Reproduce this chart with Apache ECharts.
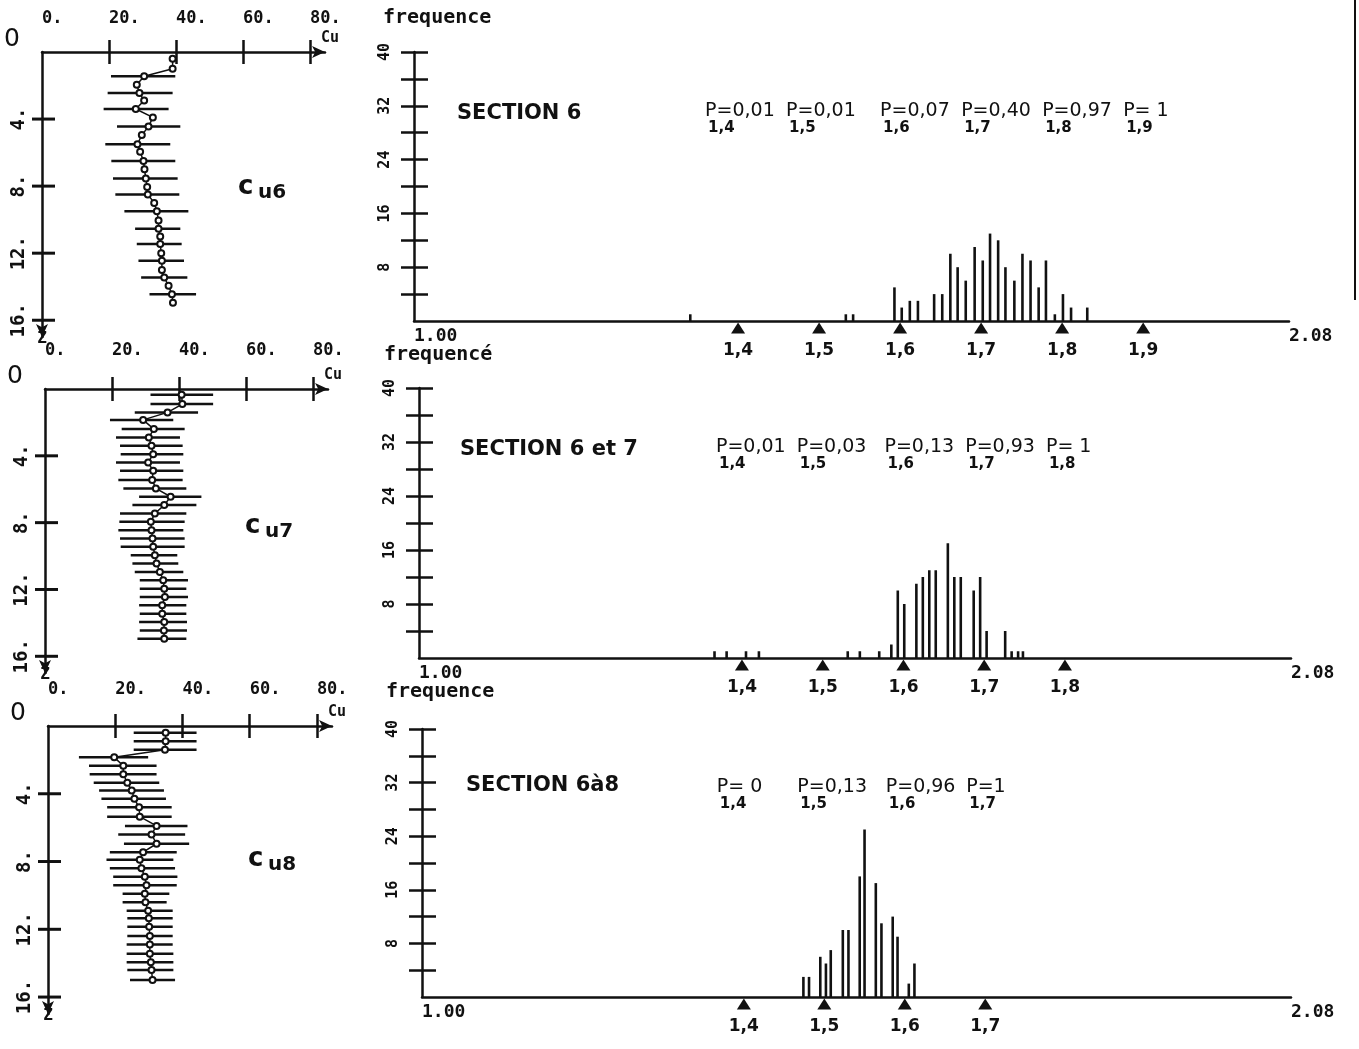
<!DOCTYPE html>
<html>
<head>
<meta charset="utf-8">
<script src="https://cdn.jsdelivr.net/npm/echarts@6/dist/echarts.min.js"></script>
<style>
  html, body { margin: 0; padding: 0; background: #fff; }
  #c { width: 1359px; height: 1049px; }
</style>
</head>
<body>
<div id="c"></div>
<script>
// ---- Profils Cu(z) : profondeur, valeur moyenne, bornes de l'intervalle (null = pas de barre)
const cu6Depth = [0.4, 1.0, 1.45, 1.95, 2.45, 2.9, 3.4, 3.9, 4.45, 4.95, 5.5, 5.95, 6.5, 7.0, 7.55, 8.05, 8.5, 9.0, 9.5, 10.05, 10.55, 11.0, 11.45, 12.0, 12.45, 13.0, 13.45, 13.95, 14.45, 14.95];
const cu6Mean  = [39.0, 39.0, 30.5, 28.3, 29.1, 30.5, 28.0, 33.1, 31.8, 29.8, 28.5, 29.3, 30.3, 30.6, 31.0, 31.4, 31.6, 33.5, 34.3, 34.8, 34.8, 35.3, 35.3, 35.6, 35.8, 35.8, 36.5, 37.8, 38.8, 39.1];
const cu6Low   = [null, null, 20.6, null, 19.6, null, 18.4, null, 22.4, null, 18.9, null, 20.7, null, 21.2, null, 21.9, null, 24.6, null, 27.8, null, 28.3, null, 28.8, null, 29.6, null, 32.1, null];
const cu6High  = [null, null, 39.8, null, 39.0, null, 37.8, null, 41.3, null, 38.3, null, 39.8, null, 40.5, null, 41.0, null, 43.7, null, 41.3, null, 41.7, null, 42.4, null, 43.4, null, 46.0, null];

const cu7Depth = [0.35, 0.9, 1.4, 1.85, 2.4, 2.9, 3.4, 3.9, 4.4, 4.9, 5.45, 5.95, 6.45, 6.95, 7.45, 7.95, 8.45, 8.95, 9.45, 9.95, 10.45, 10.95, 11.45, 11.95, 12.45, 12.95, 13.45, 13.95, 14.45, 14.95];
const cu7Mean  = [40.8, 41.0, 36.6, 29.3, 32.5, 31.0, 31.8, 32.3, 30.8, 32.3, 32.0, 33.1, 37.5, 35.6, 32.8, 31.6, 31.8, 32.1, 32.3, 32.8, 33.3, 34.3, 35.3, 35.6, 35.8, 35.0, 35.0, 35.6, 35.5, 35.6];
const cu7Low   = [31.5, 31.5, 26.8, 19.4, 22.9, 21.2, 22.4, 22.6, 21.2, 22.4, 21.9, 23.4, 28.1, 26.1, 22.4, 22.2, 21.9, 22.4, 22.6, 25.6, 26.1, 26.8, 28.3, 28.3, 28.3, 28.1, 28.3, 28.1, 28.3, 27.6];
const cu7High  = [50.2, 50.2, 45.7, 38.3, 41.7, 40.3, 41.1, 41.3, 40.3, 41.3, 41.1, 42.2, 46.7, 45.2, 42.2, 41.7, 41.3, 41.7, 41.7, 39.5, 39.8, 41.3, 42.7, 42.2, 42.7, 42.2, 42.2, 42.4, 42.4, 42.2];

const cu8Depth = [0.4, 0.9, 1.4, 1.85, 2.35, 2.85, 3.35, 3.8, 4.3, 4.8, 5.35, 5.9, 6.4, 6.95, 7.45, 7.9, 8.4, 8.9, 9.4, 9.9, 10.4, 10.9, 11.35, 11.85, 12.4, 12.9, 13.45, 13.95, 14.4, 15.0];
const cu8Mean  = [35.0, 35.0, 34.8, 19.7, 22.4, 22.4, 23.6, 24.9, 25.7, 27.1, 27.3, 32.3, 30.8, 32.3, 28.3, 27.3, 27.8, 28.8, 29.3, 28.8, 29.0, 29.8, 30.0, 30.1, 30.3, 30.3, 30.3, 30.6, 30.8, 31.1];
const cu8Low   = [25.5, 25.5, 25.5, 9.2, 12.2, 12.4, 13.6, 15.2, 15.9, 17.6, 17.6, 22.9, 20.9, 22.6, 18.4, 17.4, 18.4, 19.4, 19.4, 22.2, 22.2, 23.4, 23.6, 23.6, 23.6, 23.4, 23.4, 23.4, 23.6, 24.4];
const cu8High  = [44.2, 44.2, 44.2, 29.8, 32.3, 32.3, 33.1, 34.5, 35.1, 36.8, 36.8, 41.5, 40.8, 42.0, 38.3, 37.3, 37.8, 38.5, 38.3, 36.1, 35.3, 37.1, 37.1, 37.1, 37.1, 37.1, 37.3, 37.3, 37.3, 37.8];

// ---- Histogrammes : valeur de la classe, fréquence
const freq6X = [1.341, 1.533, 1.542, 1.593, 1.602, 1.612, 1.622, 1.642, 1.652, 1.662, 1.671, 1.681, 1.692, 1.702, 1.711, 1.721, 1.730, 1.741, 1.751, 1.761, 1.771, 1.780, 1.791, 1.801, 1.811, 1.831];
const freq6N = [1, 1, 1, 5, 2, 3, 3, 4, 4, 10, 8, 6, 11, 9, 13, 12, 8, 6, 10, 9, 5, 9, 1, 4, 2, 2];

const freq7X = [1.366, 1.381, 1.405, 1.421, 1.531, 1.546, 1.570, 1.585, 1.593, 1.601, 1.616, 1.624, 1.632, 1.640, 1.655, 1.663, 1.671, 1.687, 1.695, 1.703, 1.726, 1.734, 1.742, 1.748];
const freq7N = [1, 1, 1, 1, 1, 1, 1, 2, 10, 8, 11, 12, 13, 13, 17, 12, 12, 10, 12, 4, 4, 1, 1, 1];

const freq8X = [1.474, 1.481, 1.495, 1.502, 1.508, 1.523, 1.530, 1.544, 1.550, 1.564, 1.571, 1.585, 1.591, 1.605, 1.612];
const freq8N = [3, 3, 6, 5, 7, 10, 10, 18, 25, 17, 11, 12, 9, 2, 5];

// ---- Seuils et probabilités P
const lev6 = [1.4, 1.5, 1.6, 1.7, 1.8, 1.9];
const prob6 = ['0,01', '0,01', '0,07', '0,40', '0,97', ' 1'];
const lev7 = [1.4, 1.5, 1.6, 1.7, 1.8];
const prob7 = ['0,01', '0,03', '0,13', '0,93', ' 1'];
const lev8 = [1.4, 1.5, 1.6, 1.7];
const prob8 = [' 0', '0,13', '0,96', '1'];

// ---- Axis ticks / labels
const cuTicks = [20, 40, 60, 80];
const cuLabels = [0, 20, 40, 60, 80];
const depthTicks = [4, 8, 12, 16];
const freqTicks = [4, 8, 12, 16, 20, 24, 28, 32, 36, 40];
const freqLabels = [8, 16, 24, 32, 40];
const xEnds = [1.0, 2.08];

const INK = '#111111';
const MONO = '"DejaVu Sans Mono", "Liberation Mono", monospace';
const SANS = '"DejaVu Sans", "Liberation Sans", sans-serif';
const DEPTH_MAX = 17;

const grid = [], xAxis = [], yAxis = [], series = [], graphic = [];
const tickLine = { color: INK, width: 2.5 };
const comma = v => v.toFixed(1).replace('.', ',');

function profilePanel(p) {
  const g = grid.length;
  grid.push({ left: p.left, top: p.top, width: p.width, height: p.height });
  const xi = xAxis.length, yi = yAxis.length;
  xAxis.push({
    gridIndex: g, type: 'value', position: 'top', min: 0, max: 84.5,
    axisLine: { show: true, onZero: false, lineStyle: { color: INK, width: 2.5 }, symbol: ['none', 'arrow'], symbolSize: [9, 13] },
    axisTick: { show: true, customValues: cuTicks, length: 12, lineStyle: tickLine },
    axisLabel: { customValues: cuLabels, formatter: v => v + '.', align: 'left', margin: p.labelMargin,
                 color: INK, fontFamily: MONO, fontWeight: 'bold', fontSize: 17 },
    splitLine: { show: false },
    name: 'Cu', nameLocation: 'end', nameGap: -4,
    nameTextStyle: { color: INK, fontFamily: MONO, fontWeight: 'bold', fontSize: 15, align: 'left', verticalAlign: 'bottom', padding: [0, 0, 6, 0] }
  });
  xAxis.push({
    gridIndex: g, type: 'value', position: 'top', min: 0, max: 84.5,
    axisLine: { show: false },
    axisTick: { show: true, inside: true, customValues: cuTicks, length: 12, lineStyle: tickLine },
    axisLabel: { show: false }, splitLine: { show: false }
  });
  yAxis.push({
    gridIndex: g, type: 'value', position: 'left', inverse: true, min: 0, max: DEPTH_MAX,
    axisLine: { show: true, onZero: false, lineStyle: { color: INK, width: 2.5 }, symbol: ['arrow', 'none'], symbolSize: [9, 13] },
    axisTick: { show: false },
    axisLabel: { customValues: depthTicks, formatter: v => v + '.', rotate: 90, margin: 13,
                 color: INK, fontFamily: MONO, fontWeight: 'bold', fontSize: 19 },
    splitLine: { show: false },
    name: 'Z', nameLocation: 'end', nameGap: -6,
    nameTextStyle: { color: INK, fontFamily: MONO, fontWeight: 'bold', fontSize: 16 }
  });
  yAxis.push({
    gridIndex: g, type: 'value', position: 'left', inverse: true, min: 0, max: DEPTH_MAX,
    axisLine: { show: false }, axisTick: { show: false },
    axisLabel: { customValues: [0], formatter: () => '0', margin: 22, verticalAlign: 'bottom',
                 color: INK, fontFamily: SANS, fontSize: 25 },
    splitLine: { show: false }
  });
  const bars = [];
  p.depth.forEach((d, k) => { if (p.low[k] != null) bars.push([p.low[k], p.high[k], d]); });
  series.push({
    type: 'custom', xAxisIndex: xi, yAxisIndex: yi, data: bars, encode: { x: [0, 1], y: 2 },
    silent: true, clip: false, z: 2,
    renderItem: (params, api) => {
      const a = api.coord([api.value(0), api.value(2)]);
      const b = api.coord([api.value(1), api.value(2)]);
      return { type: 'line', shape: { x1: a[0], y1: a[1], x2: b[0], y2: b[1] }, style: { stroke: INK, lineWidth: 2.5 } };
    }
  });
  series.push({
    type: 'line', xAxisIndex: xi, yAxisIndex: yi,
    data: p.depth.map((d, k) => [p.mean[k], d]),
    symbol: 'emptyCircle', symbolSize: 6, showAllSymbol: true,
    lineStyle: { color: INK, width: 1.5 }, itemStyle: { color: INK, borderWidth: 2 }, z: 3
  });
  // graduations de l'axe z (profondeur croissante vers le bas), de part et d'autre de l'axe
  depthTicks.forEach(d => {
    const y = p.top + p.height * d / DEPTH_MAX;
    graphic.push({
      type: 'line', z: 100,
      shape: { x1: p.left - 10, y1: y, x2: p.left + 13, y2: y },
      style: { stroke: INK, lineWidth: 3 }
    });
  });
  graphic.push({ type: 'text', left: p.cuPos[0], top: p.cuPos[1], style: { text: 'c', fill: INK, font: 'bold 26px ' + SANS } });
  graphic.push({ type: 'text', left: p.cuPos[0] + 20, top: p.cuPos[1] + 9, style: { text: p.sub, fill: INK, font: 'bold 20px ' + SANS } });
}

function histPanel(p) {
  const g = grid.length;
  grid.push({ left: p.left, top: p.top, width: p.width, height: p.height });
  const xi = xAxis.length, yi = yAxis.length;
  xAxis.push({
    gridIndex: g, type: 'value', min: 1.0, max: 2.08,
    axisLine: { show: true, onZero: false, lineStyle: { color: INK, width: 2.5 } },
    axisTick: { show: false },
    axisLabel: { customValues: xEnds, formatter: v => v.toFixed(2), align: 'left', margin: 6,
                 color: INK, fontFamily: MONO, fontWeight: 'bold', fontSize: 18 },
    splitLine: { show: false }
  });
  yAxis.push({
    gridIndex: g, type: 'value', position: 'left', min: 0, max: 40, interval: 4,
    axisLine: { show: true, onZero: false, lineStyle: { color: INK, width: 2.5 } },
    axisTick: { show: true, customValues: freqTicks, length: 13, lineStyle: tickLine },
    axisLabel: { customValues: freqLabels, rotate: 90, margin: 21,
                 color: INK, fontFamily: MONO, fontWeight: 'bold', fontSize: 15 },
    splitLine: { show: false }
  });
  yAxis.push({
    gridIndex: g, type: 'value', position: 'left', min: 0, max: 40, interval: 4,
    axisLine: { show: false },
    axisTick: { show: true, inside: true, customValues: freqTicks, length: 14, lineStyle: tickLine },
    axisLabel: { show: false }, splitLine: { show: false }
  });
  series.push({
    type: 'bar', xAxisIndex: xi, yAxisIndex: yi,
    data: p.x.map((v, k) => [v, p.n[k]]),
    barWidth: 2.6, itemStyle: { color: INK }
  });
  series.push({
    type: 'scatter', xAxisIndex: xi, yAxisIndex: yi, clip: false,
    data: p.levels.map(l => [l, 0]),
    symbol: 'triangle', symbolSize: [14, 11], symbolOffset: [0, 7], itemStyle: { color: INK, opacity: 1 },
    label: { show: true, position: 'bottom', distance: 9, formatter: q => comma(q.value[0]),
             color: INK, fontFamily: SANS, fontWeight: 'bold', fontSize: 17 }
  });
  series.push({
    type: 'scatter', xAxisIndex: xi, yAxisIndex: yi, clip: false, silent: true,
    data: p.levels.map((l, k) => ({ value: [l, 30], label: { offset: [k < 2 ? p.pShift[0] : p.pShift[1], 0] } })),
    symbolSize: 1, itemStyle: { color: 'rgba(0,0,0,0)', opacity: 1 },
    label: {
      show: true, position: 'inside', align: 'left', verticalAlign: 'middle',
      formatter: q => '{m|P=' + p.probs[q.dataIndex] + '}\n{s|' + comma(p.levels[q.dataIndex]) + '}',
      rich: {
        m: { fontFamily: SANS, fontSize: 19, color: INK, lineHeight: 17 },
        s: { fontFamily: SANS, fontWeight: 'bold', fontSize: 15, color: INK, lineHeight: 17, padding: [0, 0, 0, 3] }
      }
    }
  });
  graphic.push({ type: 'text', left: p.freqPos[0], top: p.freqPos[1], style: { text: p.freqName, fill: INK, font: 'bold 20px ' + MONO } });
  graphic.push({ type: 'text', left: p.titlePos[0], top: p.titlePos[1], style: { text: p.title, fill: INK, font: 'bold 21px ' + SANS } });
}

profilePanel({ left: 42, top: 52, width: 283, height: 285, labelMargin: 25, depth: cu6Depth, mean: cu6Mean, low: cu6Low, high: cu6High, cuPos: [238, 174], sub: 'u6' });
profilePanel({ left: 45, top: 389, width: 283, height: 284, labelMargin: 30, depth: cu7Depth, mean: cu7Mean, low: cu7Low, high: cu7High, cuPos: [245, 513], sub: 'u7' });
profilePanel({ left: 48, top: 726, width: 284, height: 288, labelMargin: 28, depth: cu8Depth, mean: cu8Mean, low: cu8Low, high: cu8High, cuPos: [248, 846], sub: 'u8' });

histPanel({ left: 414, top: 52, width: 875, height: 269, x: freq6X, n: freq6N, levels: lev6, probs: prob6, pShift: [-33, -20],
            freqName: 'frequence', freqPos: [383, 8], title: 'SECTION 6', titlePos: [457, 103] });
histPanel({ left: 419, top: 388, width: 872, height: 270, x: freq7X, n: freq7N, levels: lev7, probs: prob7, pShift: [-26, -19],
            freqName: 'frequencé', freqPos: [384, 345], title: 'SECTION 6 et 7', titlePos: [460, 439] });
histPanel({ left: 422, top: 729, width: 869, height: 268, x: freq8X, n: freq8N, levels: lev8, probs: prob8, pShift: [-27, -19],
            freqName: 'frequence', freqPos: [386, 682], title: 'SECTION 6à8', titlePos: [466, 775] });

// bord droit de la planche
graphic.push({ type: 'line', shape: { x1: 1355, y1: 0, x2: 1355, y2: 300 }, style: { stroke: INK, lineWidth: 2 } });

const chart = echarts.init(document.getElementById('c'), null, { renderer: 'canvas' });
chart.setOption({
  backgroundColor: '#ffffff',
  animation: false,
  grid, xAxis, yAxis, series, graphic
});
</script>
</body>
</html>
